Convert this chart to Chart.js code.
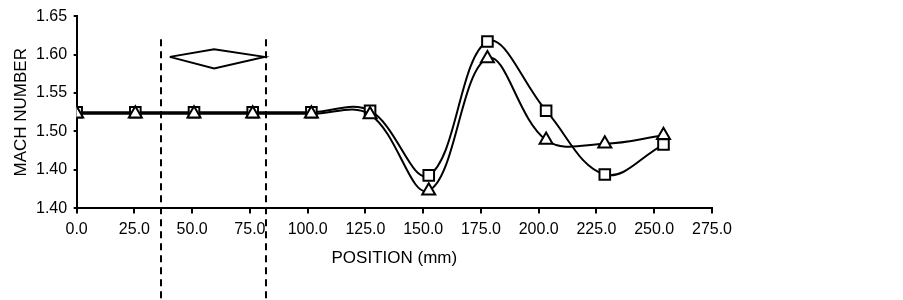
<!DOCTYPE html>
<html>
<head>
<meta charset="utf-8">
<script src="https://cdn.jsdelivr.net/npm/chart.js@4.4.1/dist/chart.umd.min.js"></script>
<style>
  html, body { margin: 0; padding: 0; background: #ffffff; }
  #wrap { width: 903px; height: 300px; position: relative; }
</style>
</head>
<body>
<div id="wrap"><canvas id="c" width="903" height="300"></canvas></div>
<script>
// ---- data ----
const positions = [0, 25.4, 50.8, 76.2, 101.6, 127, 152.4, 177.8, 203.2, 228.6, 254];
const squareSeries = [1.525, 1.525, 1.525, 1.525, 1.525, 1.527, 1.443, 1.617, 1.527, 1.444, 1.483];
const triangleSeries = [1.523, 1.523, 1.523, 1.523, 1.523, 1.522, 1.423, 1.595, 1.489, 1.484, 1.495];
const diamondX = [40.3, 59.5, 81.3, 59.5, 40.3];
const diamondY = [1.597, 1.607, 1.597, 1.582, 1.597];
const dashX = [36.4, 82.1];
const dashTopValue = 1.62;
const yTickLabels = ['1.40', '1.40', '1.50', '1.55', '1.60', '1.65'];
const xTickValues = [0, 25, 50, 75, 100, 125, 150, 175, 200, 225, 250, 275];

const toPts = (xs, ys) => xs.map((x, i) => ({ x: x, y: ys[i] }));

const dashPlugin = {
  id: 'dashLines',
  afterDraw(chart) {
    const ctx = chart.ctx;
    const xs = chart.scales.x, ys = chart.scales.y;
    ctx.save();
    ctx.strokeStyle = '#000';
    ctx.lineWidth = 2;
    ctx.setLineDash([7, 5]);
    dashX.forEach(v => {
      const px = Math.round(xs.getPixelForValue(v));
      ctx.beginPath();
      ctx.moveTo(px, ys.getPixelForValue(dashTopValue));
      ctx.lineTo(px, chart.height);
      ctx.stroke();
    });
    ctx.restore();
  }
};

const tickFont = { family: '"Liberation Sans", Arial, sans-serif', size: 16 };
const titleFont = { family: '"Liberation Sans", Arial, sans-serif', size: 17 };
const yTitleFont = { family: '"Liberation Sans", Arial, sans-serif', size: 17, lineHeight: 1 };

new Chart(document.getElementById('c'), {
  type: 'line',
  data: {
    datasets: [
      {
        label: 'triangle',
        data: toPts(positions, triangleSeries),
        borderColor: '#000', borderWidth: 2,
        pointStyle: 'triangle', pointRadius: 7.5,
        pointBackgroundColor: '#fff', pointBorderColor: '#000', pointBorderWidth: 2,
        tension: 0.38, fill: false, order: 0
      },
      {
        label: 'square',
        data: toPts(positions, squareSeries),
        borderColor: '#000', borderWidth: 2,
        pointStyle: 'rect', pointRadius: 7.5,
        pointBackgroundColor: '#fff', pointBorderColor: '#000', pointBorderWidth: 2,
        tension: 0.38, fill: false, order: 1
      },
      {
        label: 'diamond',
        data: toPts(diamondX, diamondY),
        borderColor: '#000', borderWidth: 2,
        pointRadius: 0, tension: 0, fill: false, order: 2
      }
    ]
  },
  options: {
    responsive: false,
    animation: false,
    devicePixelRatio: 1,
    layout: { padding: { left: 12.5, right: 191, top: 12.5, bottom: 31.5 } },
    plugins: { legend: { display: false }, tooltip: { enabled: false } },
    scales: {
      x: {
        type: 'linear', min: 0, max: 275,
        afterBuildTicks: (s) => { s.ticks = xTickValues.map(v => ({ value: v })); },
        ticks: { color: '#000', font: tickFont, padding: 6.5, maxRotation: 0,
                 callback: (v) => Number(v).toFixed(1) },
        grid: { drawOnChartArea: false, drawTicks: true, tickLength: 5, color: '#000', lineWidth: 2 },
        border: { display: true, color: '#000', width: 2 },
        title: { display: true, text: 'POSITION (mm)', color: '#000', font: titleFont, padding: { top: 2.5, bottom: 0 } }
      },
      y: {
        type: 'linear', min: 1.40, max: 1.65,
        ticks: { stepSize: 0.05, color: '#000', font: tickFont, padding: 6.5,
                 callback: (v, i) => yTickLabels[i] },
        grid: { drawOnChartArea: false, drawTicks: true, tickLength: 3, color: '#000', lineWidth: 2 },
        border: { display: true, color: '#000', width: 2 },
        title: { display: true, text: 'MACH NUMBER', color: '#000', font: yTitleFont, padding: { top: 0, bottom: 0 } }
      }
    }
  },
  plugins: [dashPlugin]
});
</script>
</body>
</html>
